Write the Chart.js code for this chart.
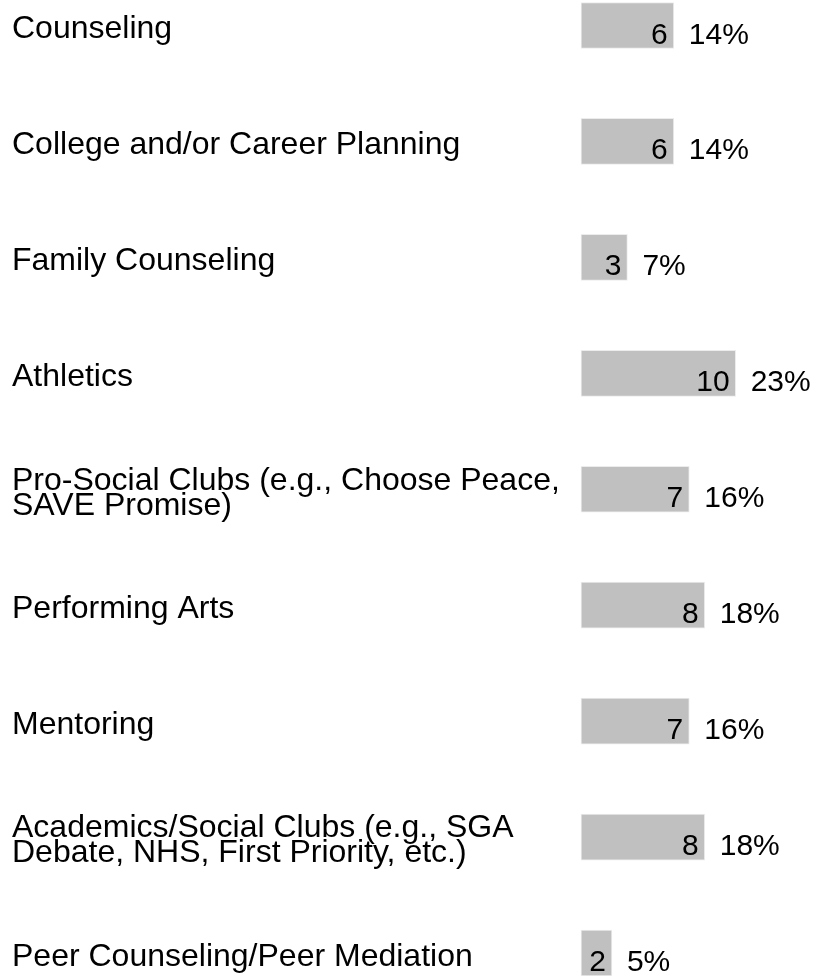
<!DOCTYPE html>
<html>
<head>
<meta charset="utf-8">
<script src="https://cdn.jsdelivr.net/npm/chart.js@4"></script>
<style>
  html, body { margin: 0; padding: 0; background: #fff; }
  #wrap { position: relative; width: 816px; height: 976px; }
</style>
</head>
<body>
<div id="wrap"><canvas id="chart"></canvas></div>
<script>
// 类别 / 数值
const categories = [
  "Counseling",
  "College and/or Career Planning",
  "Family Counseling",
  "Athletics",
  ["Pro-Social Clubs (e.g., Choose Peace,", "SAVE Promise)"],
  "Performing Arts",
  "Mentoring",
  ["Academics/Social Clubs (e.g., SGA", "Debate, NHS, First Priority, etc.)"],
  "Peer Counseling/Peer Mediation"
]
const counts = [6, 6, 3, 10, 7, 8, 7, 8, 2]
const percents = [14, 14, 7, 23, 16, 18, 16, 18, 5]

const FONT = "'Liberation Sans', Arial, sans-serif"

// 条形内数值 + 条形外百分比
const valueLabels = {
  id: "valueLabels",
  afterDatasetsDraw(chart) {
    const ctx = chart.ctx
    const meta = chart.getDatasetMeta(0)
    ctx.save()
    ctx.fillStyle = "#000"
    ctx.font = "30px " + FONT
    ctx.textBaseline = "alphabetic"
    meta.data.forEach((bar, i) => {
      const base = bar.y + bar.height / 2 - 5
      ctx.textAlign = "right"
      ctx.fillText(String(counts[i]), bar.x - 6, base)
      ctx.textAlign = "left"
      ctx.fillText(percents[i] + "%", bar.x + 15, base)
    })
    ctx.restore()
  }
}

new Chart(document.getElementById("chart"), {
  type: "bar",
  data: {
    labels: categories,
    datasets: [{
      data: counts,
      backgroundColor: "#c0c0c0",
      borderColor: "#ececec",
      borderWidth: 1,
      borderSkipped: false,
      barThickness: 46,
      clip: false
    }]
  },
  options: {
    indexAxis: "y",
    responsive: true,
    maintainAspectRatio: false,
    animation: false,
    layout: {
      padding: { left: 12, right: 3, top: 25.5, bottom: 23 }
    },
    plugins: {
      legend: { display: false },
      tooltip: { enabled: false }
    },
    scales: {
      x: {
        display: false,
        min: 0,
        max: 15
      },
      y: {
        offset: false,
        border: { display: false },
        grid: { display: false, drawTicks: false },
        afterFit: (scale) => { scale.width = 569 },
        ticks: {
          autoSkip: false,
          crossAlign: "far",
          color: "#000",
          padding: 0,
          labelOffset: 4,
          font: { family: FONT, size: 32, lineHeight: 0.78 }
        }
      }
    }
  },
  plugins: [valueLabels]
})
</script>
</body>
</html>
